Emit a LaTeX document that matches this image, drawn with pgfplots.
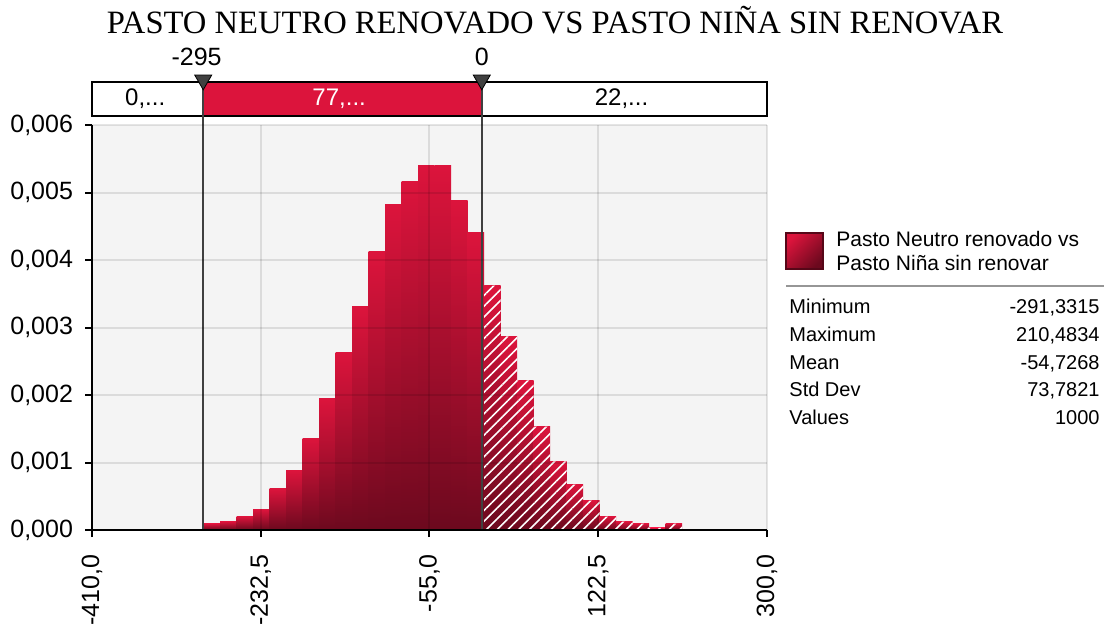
\documentclass[border=0pt]{standalone}
\usepackage{fontspec}
\setmainfont{Liberation Serif}
\newfontfamily\lsans{Liberation Sans}
\usepackage{pgfplots}
\pgfplotsset{compat=1.18}
\usetikzlibrary{patterns.meta}
\definecolor{crim}{RGB}{220,20,60}
\definecolor{crimdark}{RGB}{108,9,30}
\definecolor{bg}{RGB}{244,244,244}
\definecolor{delim}{RGB}{64,64,64}
\definecolor{sepc}{RGB}{150,150,150}
% one histogram bin: left edge, density, right edge
\newcommand\hbin[3]{\addplot[ybar interval, draw=none, top color=crim, bottom color=crimdark, forget plot] coordinates {(#1,#2) (#3,#2)};}
\begin{document}
\begin{tikzpicture}
\path[use as bounding box] (-46pt,-49.5pt) rectangle (507.5pt,265pt);
\begin{axis}[
  at={(0,0)}, anchor=south west,
  scale only axis, width=337.5pt, height=202.5pt,
  xmin=-410, xmax=300, ymin=0, ymax=0.006,
  axis x line*=bottom, axis y line*=left,
  axis line style={black, line width=1pt},
  axis background/.style={fill=bg},
  axis on top,
  xtick={-410,-232.5,-55,122.5,300},
  xticklabels={{-410,0},{-232,5},{-55,0},{122,5},{300,0}},
  ytick={0,0.001,0.002,0.003,0.004,0.005,0.006},
  yticklabels={{0,000},{0,001},{0,002},{0,003},{0,004},{0,005},{0,006}},
  ticklabel style={font=\lsans\fontsize{12.5}{14}\selectfont},
  xticklabel style={rotate=90, anchor=east, xshift=-5.5pt},
  yticklabel style={xshift=-2.5pt},
  tick align=outside, major tick length=3.5pt,
  tick style={black, line width=1pt},
  grid=major, major grid style={black, opacity=0.1, line width=1pt},
  clip=false,
  scaled y ticks=false,
]
% histogram bars (density), each bin shaded on its own
\hbin{-292.5}{0.000092}{-275.15}
\hbin{-275.15}{0.000126}{-257.8}
\hbin{-257.8}{0.000200}{-240.45}
\hbin{-240.45}{0.000304}{-223.1}
\hbin{-223.1}{0.000615}{-205.75}
\hbin{-205.75}{0.000881}{-188.4}
\hbin{-188.4}{0.001356}{-171.05}
\hbin{-171.05}{0.001948}{-153.7}
\hbin{-153.7}{0.002630}{-136.35}
\hbin{-136.35}{0.003310}{-119.0}
\hbin{-119.0}{0.004126}{-101.65}
\hbin{-101.65}{0.004822}{-84.3}
\hbin{-84.3}{0.005163}{-66.95}
\hbin{-66.95}{0.005400}{-49.6}
\hbin{-49.6}{0.005400}{-32.25}
\hbin{-32.25}{0.004881}{-14.9}
\hbin{-14.9}{0.004407}{2.45}
\hbin{2.45}{0.003622}{19.8}
\hbin{19.8}{0.002867}{37.15}
\hbin{37.15}{0.002215}{54.5}
\hbin{54.5}{0.001533}{71.85}
\hbin{71.85}{0.001015}{89.2}
\hbin{89.2}{0.000674}{106.55}
\hbin{106.55}{0.000437}{123.9}
\hbin{123.9}{0.000200}{141.25}
\hbin{141.25}{0.000126}{158.6}
\hbin{158.6}{0.000096}{175.95}
\hbin{175.95}{0.000030}{193.3}
\hbin{193.3}{0.000096}{210.65}
% hatched part beyond right delimiter
\addplot[ybar interval, draw=none, pattern={Lines[angle=45,distance=3.8pt,line width=0.8pt]}, pattern color=white] coordinates {
(2.45,0.003622) (19.8,0.002867) (37.15,0.002215)
(54.5,0.001533) (71.85,0.001015) (89.2,0.000674) (106.55,0.000437)
(123.9,0.000200) (141.25,0.000126) (158.6,0.000096) (175.95,0.000030)
(193.3,0.000096) (210.65,0.000096)
};
% top delimiter bar
\fill[white] (axis cs:-410,0.006133) rectangle (axis cs:300,0.006637);
\fill[crim] (axis cs:-293,0.006133) rectangle (axis cs:0,0.006637);
\draw[black, line width=1pt] (axis cs:-410,0.006133) rectangle (axis cs:300,0.006637);
\addplot[delim, line width=1pt] coordinates {(-293,0) (-293,0.006637)};
\addplot[delim, line width=1pt] coordinates {(0,0) (0,0.006637)};
\addplot[only marks, mark=triangle*, mark size=4.9pt, mark options={rotate=180, fill=delim, draw=black, line width=0.4pt}] coordinates {(-293,0.006667) (0,0.006667)};
\node[font=\lsans\fontsize{12}{14}\selectfont, text=black] at (axis cs:-354,0.006385) {0,...};
\node[font=\lsans\fontsize{12}{14}\selectfont, text=white] at (axis cs:-150,0.006385) {77,...};
\node[font=\lsans\fontsize{12}{14}\selectfont, text=black] at (axis cs:147,0.006385) {22,...};
\node[font=\lsans\fontsize{12.5}{14}\selectfont, anchor=base] at (axis cs:-300,0.006889) {-295};
\node[font=\lsans\fontsize{12.5}{14}\selectfont, anchor=base] at (axis cs:0,0.006889) {0};
\end{axis}
% title
\node[anchor=base, font=\fontsize{16.3}{19}\selectfont] at (231.5pt,248.4pt) {PASTO NEUTRO RENOVADO VS PASTO NIÑA SIN RENOVAR};
% legend
\shade[top color=crim, bottom color=crimdark, shading angle=45] (347pt,130.35pt) rectangle (365.5pt,148.65pt);
\draw[crimdark!80!black, line width=1pt] (347pt,130.35pt) rectangle (365.5pt,148.65pt);
\node[anchor=base west, inner sep=0pt, font=\lsans\fontsize{10.5}{12}\selectfont] at (372pt,142pt) {Pasto Neutro renovado vs};
\node[anchor=base west, inner sep=0pt, font=\lsans\fontsize{10.5}{12}\selectfont] at (372pt,130pt) {Pasto Niña sin renovar};
\draw[sepc, line width=1pt] (347pt,122.15pt) -- (506pt,122.15pt);
\begin{scope}[every node/.style={inner sep=0pt, font=\lsans\fontsize{10}{12}\selectfont}]
\node[anchor=base west] at (348.5pt,108.5pt) {Minimum};
\node[anchor=base east] at (504pt,108.5pt) {-291,3315};
\node[anchor=base west] at (348.5pt,94.15pt) {Maximum};
\node[anchor=base east] at (504pt,94.15pt) {210,4834};
\node[anchor=base west] at (348.5pt,80.5pt) {Mean};
\node[anchor=base east] at (504pt,80.5pt) {-54,7268};
\node[anchor=base west] at (348.5pt,66.65pt) {Std Dev};
\node[anchor=base east] at (504pt,66.65pt) {73,7821};
\node[anchor=base west] at (348.5pt,53pt) {Values};
\node[anchor=base east] at (504pt,53pt) {1000};
\end{scope}
\end{tikzpicture}
\end{document}
